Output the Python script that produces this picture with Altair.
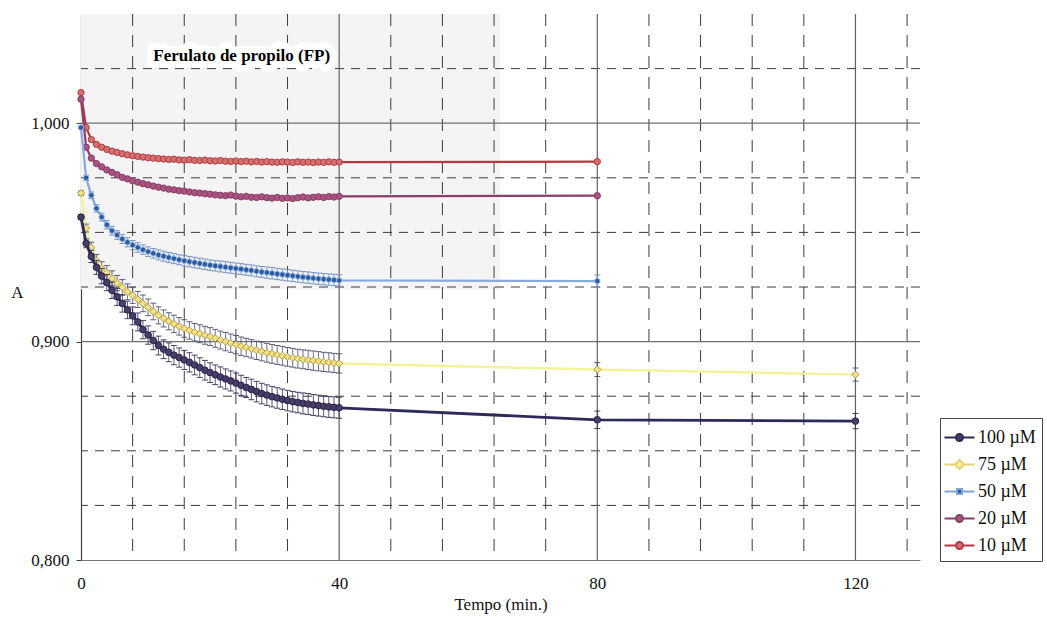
import altair as alt
import pandas as pd

# ---------------- data ----------------
series = ["100 µM", "75 µM", "50 µM", "20 µM", "10 µM"]

times_main = [0, 0.8, 1.6, 2.4, 3.2, 4.0, 4.8, 5.6, 6.4, 7.2,
              8.0, 8.8, 9.6, 10.4, 11.2, 12.0, 12.8, 13.6, 14.4, 15.2,
              16.0, 16.8, 17.6, 18.4, 19.2, 20.0, 20.8, 21.6, 22.4, 23.2,
              24.0, 24.8, 25.6, 26.4, 27.2, 28.0, 28.8, 29.6, 30.4, 31.2,
              32.0, 32.8, 33.6, 34.4, 35.2, 36.0, 36.8, 37.6, 38.4, 39.2,
              40.0]

a100 = [0.957, 0.945, 0.939, 0.934, 0.930, 0.927, 0.9235, 0.9205, 0.9175, 0.9145,
        0.9118, 0.9090, 0.9055, 0.9030, 0.9005, 0.8982, 0.8965, 0.8951, 0.8938, 0.8927,
        0.8916, 0.8905, 0.8893, 0.8881, 0.8869, 0.8858, 0.8848, 0.8838, 0.8829, 0.8820,
        0.8810, 0.8800, 0.8790, 0.8781, 0.8771, 0.8762, 0.8755, 0.8748, 0.8742, 0.8736,
        0.8730, 0.8725, 0.8721, 0.8717, 0.8714, 0.8710, 0.8707, 0.8704, 0.8701, 0.8699,
        0.8697]
a75 = [0.968, 0.952, 0.943, 0.937, 0.9335, 0.9315, 0.9290, 0.9268, 0.9248, 0.9228,
       0.9212, 0.9193, 0.9175, 0.9157, 0.9138, 0.9120, 0.9106, 0.9093, 0.9081, 0.9070,
       0.9060, 0.9051, 0.9043, 0.9036, 0.9029, 0.9023, 0.9015, 0.9007, 0.9000, 0.8993,
       0.8986, 0.8979, 0.8973, 0.8967, 0.8960, 0.8955, 0.8949, 0.8944, 0.8939, 0.8935,
       0.8930, 0.8926, 0.8922, 0.8919, 0.8916, 0.8913, 0.8910, 0.8907, 0.8905, 0.8902,
       0.8900]
a50 = [0.998, 0.975, 0.967, 0.961, 0.957, 0.9535, 0.9508, 0.9488, 0.9470, 0.9455,
       0.9442, 0.9431, 0.9421, 0.9412, 0.9404, 0.9397, 0.9391, 0.9385, 0.9380, 0.9375,
       0.9370, 0.9366, 0.9362, 0.9358, 0.9354, 0.9350, 0.9347, 0.9344, 0.9341, 0.9338,
       0.9335, 0.9332, 0.9329, 0.9326, 0.9322, 0.9319, 0.9316, 0.9313, 0.9310, 0.9307,
       0.9304, 0.9301, 0.9298, 0.9295, 0.9293, 0.9290, 0.9288, 0.9286, 0.9284, 0.9282,
       0.9280]
a20 = [1.011, 0.989, 0.984, 0.9815, 0.9800, 0.9786, 0.9775, 0.9764, 0.9752, 0.9745,
       0.9736, 0.9730, 0.9723, 0.9718, 0.9712, 0.9707, 0.9703, 0.9698, 0.9695, 0.9691,
       0.9689, 0.9685, 0.9682, 0.9680, 0.9677, 0.9675, 0.9672, 0.9670, 0.9668, 0.9671,
       0.9666, 0.9663, 0.9665, 0.9661, 0.9660, 0.9663, 0.9659, 0.9657, 0.9660, 0.9656,
       0.9658, 0.9655, 0.9659, 0.9662, 0.9658, 0.9661, 0.9663, 0.9660, 0.9664, 0.9662,
       0.9665]
a10 = [1.014, 0.998, 0.9925, 0.9903, 0.9890, 0.9880, 0.9872, 0.9866, 0.9860, 0.9855,
       0.9851, 0.9848, 0.9845, 0.9842, 0.9840, 0.9838, 0.9836, 0.9834, 0.9835, 0.9832,
       0.9831, 0.9833, 0.9830, 0.9829, 0.9831, 0.9828, 0.9827, 0.9829, 0.9826, 0.9825,
       0.9827, 0.9824, 0.9826, 0.9823, 0.9825, 0.9822, 0.9824, 0.9822, 0.9821, 0.9823,
       0.9822, 0.9820, 0.9823, 0.9821, 0.9822, 0.9820, 0.9822, 0.9821, 0.9823, 0.9821,
       0.9822]

e100 = [0.0010, 0.0020, 0.0028, 0.0032, 0.0035, 0.0037, 0.0038, 0.0039, 0.0040, 0.0040,
        0.0041, 0.0041, 0.0042, 0.0042, 0.0042, 0.0043, 0.0043, 0.0043, 0.0044, 0.0044,
        0.0044, 0.0044, 0.0045, 0.0045, 0.0045, 0.0045, 0.0045, 0.0046, 0.0046, 0.0046,
        0.0046, 0.0046, 0.0046, 0.0047, 0.0047, 0.0047, 0.0047, 0.0047, 0.0047, 0.0047,
        0.0047, 0.0047, 0.0047, 0.0048, 0.0048, 0.0048, 0.0048, 0.0048, 0.0048, 0.0048,
        0.0048]
e75 = [0.0010, 0.0018, 0.0025, 0.0029, 0.0031, 0.0033, 0.0034, 0.0035, 0.0036, 0.0036,
       0.0037, 0.0037, 0.0038, 0.0038, 0.0038, 0.0039, 0.0039, 0.0039, 0.0040, 0.0040,
       0.0040, 0.0040, 0.0040, 0.0041, 0.0041, 0.0041, 0.0041, 0.0041, 0.0042, 0.0042,
       0.0042, 0.0042, 0.0042, 0.0042, 0.0042, 0.0043, 0.0043, 0.0043, 0.0043, 0.0043,
       0.0043, 0.0043, 0.0043, 0.0043, 0.0044, 0.0044, 0.0044, 0.0044, 0.0044, 0.0044,
       0.0044]
e50 = [0.0008, 0.0012, 0.0015, 0.0017, 0.0018, 0.0019, 0.0020, 0.0020, 0.0021, 0.0021,
       0.0021, 0.0022, 0.0022, 0.0022, 0.0022, 0.0023, 0.0023, 0.0023, 0.0023, 0.0023,
       0.0024, 0.0024, 0.0024, 0.0024, 0.0024, 0.0024, 0.0024, 0.0025, 0.0025, 0.0025,
       0.0025, 0.0025, 0.0025, 0.0025, 0.0025, 0.0025, 0.0026, 0.0026, 0.0026, 0.0026,
       0.0026, 0.0026, 0.0026, 0.0026, 0.0026, 0.0026, 0.0026, 0.0026, 0.0026, 0.0026,
       0.0026]

late_t100 = [80, 120]
late_a100 = [0.8642, 0.8636]
late_e100 = [0.0040, 0.0035]
late_t75 = [80, 120]
late_a75 = [0.8872, 0.8849]
late_e75 = [0.0032, 0.0030]
late_t50 = [80]
late_a50 = [0.9277]
late_e50 = [0.0028]
late_t20 = [80]
late_a20 = [0.9668]
late_t10 = [80]
late_a10 = [0.9824]

x_ticks = [0, 40, 80, 120]
y_ticks = [0.8, 0.9, 1.0]
x_major = [40, 80, 120]
x_minor = [8, 16, 24, 32, 48, 56, 64, 72, 88, 96, 104, 112, 128]
y_major = [0.9, 1.0]
y_minor = [0.825, 0.85, 0.875, 0.925, 0.95, 0.975, 1.025]

shade_t = [0, 65]
shade_A = [0.924, 1.05]

title_text = "Ferulato de propilo (FP)"
title_t = [24.9]
title_A = [1.0307]

# ---------------- build table ----------------
assert all(len(v) == len(times_main) for v in [a100, a75, a50, a20, a10, e100, e75, e50])

rows = []
def add(name, ts, vals, errs=None):
    for i, (t, a) in enumerate(zip(ts, vals)):
        rows.append({"series": name, "t": t, "A": a,
                     "err": (errs[i] if errs is not None else None)})

add("100 µM", times_main + late_t100, a100 + late_a100, e100 + late_e100)
add("75 µM", times_main + late_t75, a75 + late_a75, e75 + late_e75)
add("50 µM", times_main + late_t50, a50 + late_a50, e50 + late_e50)
add("20 µM", times_main + late_t20, a20 + late_a20)
add("10 µM", times_main + late_t10, a10 + late_a10)
df = pd.DataFrame(rows)
df["lo"] = df["A"] - df["err"]
df["hi"] = df["A"] + df["err"]

# ---------------- styles ----------------
FONT = "Liberation Serif"
styles = {
    "100 µM": dict(line="#2b2a58", lw=2.8, shape="circle", fill="#4a3c66", stroke="#27264f", size=44, err="#2f2f55"),
    "75 µM": dict(line="#f3f39a", lw=2.4, shape="diamond", fill="#f6e27a", stroke="#a89a5c", size=52, err="#4c4f6e"),
    "50 µM": dict(line="#86aadc", lw=2.2, shape="circle", fill="#2c5a9e", stroke="#9dbde6", size=30, err="#6d8fc4"),
    "20 µM": dict(line="#8a3f67", lw=2.2, shape="circle", fill="#a85482", stroke="#8a3a64", size=40, err=None),
    "10 µM": dict(line="#b5383e", lw=2.2, shape="circle", fill="#d47070", stroke="#b23a40", size=40, err=None),
}
legend_paths = [
    "M-1.2,0H-0.28M0.28,0H1.2M-0.28,0A0.28,0.28,0,1,1,0.28,0A0.28,0.28,0,1,1,-0.28,0Z",
    "M-1.2,0H-0.36M0.36,0H1.2M-0.36,0L0,-0.36L0.36,0L0,0.36Z",
    "M-1.2,0H-0.2M0.2,0H1.2M-0.2,-0.2H0.2V0.2H-0.2Z",
    "M-1.2,0H-0.28M0.28,0H1.2M-0.28,0A0.28,0.28,0,1,1,0.28,0A0.28,0.28,0,1,1,-0.28,0Z",
    "M-1.2,0H-0.28M0.28,0H1.2M-0.28,0A0.28,0.28,0,1,1,0.28,0A0.28,0.28,0,1,1,-0.28,0Z",
]
legend_fill = ["#4a3c66", "#fbf0a0", "#2c5a9e", "#a85482", "#d47070"]
legend_stroke = ["#2b2a58", "#e2d272", "#7fa5d8", "#8a3f67", "#b5383e"]

xscale = alt.Scale(domain=[0, 130], nice=False, zero=False)
yscale = alt.Scale(domain=[0.8, 1.05], nice=False, zero=False)

x_axis = alt.Axis(
    values=x_ticks, title="Tempo (min.)", format="d", grid=False,
    ticks=False, tickSize=0, labelPadding=15, titlePadding=5,
    labelFont=FONT, labelFontSize=17, labelColor="#111", labelFlush=False,
    titleFont=FONT, titleFontSize=17, titleFontWeight="normal", titleColor="#111",
    domainColor="#777", domainWidth=1.2)
y_axis = alt.Axis(
    values=y_ticks, labelExpr="replace(format(datum.value, '.3f'), '.', ',')",
    grid=False, tickSize=5, tickColor="#444", labelPadding=7,
    labelFont=FONT, labelFontSize=17, labelColor="#111",
    title="A", titleAngle=0, titleX=-64, titleY=278, titleAlign="center",
    titleBaseline="middle", titleFont=FONT, titleFontSize=17,
    titleFontWeight="normal", titleColor="#111",
    domainColor="#444", domainWidth=1.2)


def X(field):
    return alt.X(field, type="quantitative", scale=xscale, axis=x_axis)


def Y(field):
    return alt.Y(field, type="quantitative", scale=yscale, axis=y_axis)


layers = []

# shaded region
shade_df = pd.DataFrame({"t0": [shade_t[0]], "t1": [shade_t[1]], "a0": [shade_A[0]], "a1": [shade_A[1]]})
layers.append(
    alt.Chart(shade_df).mark_rect(color="#f4f4f4").encode(
        x=X("t0"), x2="t1:Q", y=Y("a0"), y2="a1:Q"))

# gridlines
layers.append(alt.Chart(pd.DataFrame({"v": y_minor})).mark_rule(
    color="#3c3c3c", strokeWidth=1, strokeDash=[9, 7]).encode(y=Y("v")))
layers.append(alt.Chart(pd.DataFrame({"v": x_minor})).mark_rule(
    color="#3c3c3c", strokeWidth=1, strokeDash=[12, 9]).encode(x=X("v")))
layers.append(alt.Chart(pd.DataFrame({"v": y_major})).mark_rule(
    color="#707070", strokeWidth=1.2).encode(y=Y("v")))
layers.append(alt.Chart(pd.DataFrame({"v": x_major})).mark_rule(
    color="#606060", strokeWidth=1.2).encode(x=X("v")))

# title inside the plot with a white halo
title_df = pd.DataFrame({"t": title_t, "A": title_A, "label": [title_text]})
layers.append(alt.Chart(title_df).mark_text(
    font=FONT, fontSize=17, fontWeight="bold", align="center", baseline="middle",
    stroke="white", strokeWidth=14, strokeJoin="round", fill="white").encode(
    x=X("t"), y=Y("A"), text="label:N"))
layers.append(alt.Chart(title_df).mark_text(
    font=FONT, fontSize=17, fontWeight="bold", align="center", baseline="middle",
    color="black").encode(x=X("t"), y=Y("A"), text="label:N"))

# series
for name in ["10 µM", "20 µM", "50 µM", "75 µM", "100 µM"]:
    st = styles[name]
    base = alt.Chart(df).transform_filter(alt.datum.series == name)
    layers.append(base.mark_line(color=st["line"], strokeWidth=st["lw"]).encode(
        x=X("t"), y=Y("A"), order="t:Q"))
    if st["err"]:
        eb = base.transform_filter("isValid(datum.err)")
        layers.append(eb.mark_rule(color=st["err"], strokeWidth=1, opacity=0.8).encode(
            x=X("t"), y=Y("lo"), y2="hi:Q"))
        layers.append(eb.mark_tick(color=st["err"], orient="horizontal", size=6,
                                   thickness=1, opacity=0.9).encode(x=X("t"), y=Y("lo")))
        layers.append(eb.mark_tick(color=st["err"], orient="horizontal", size=6,
                                   thickness=1, opacity=0.9).encode(x=X("t"), y=Y("hi")))
    layers.append(base.mark_point(shape=st["shape"], filled=True, fill=st["fill"],
                                  stroke=st["stroke"], strokeWidth=1, size=st["size"],
                                  opacity=1).encode(x=X("t"), y=Y("A")))

# legend-only layer (no marks drawn)
leg = alt.Legend(orient="none", legendX=859, legendY=404, title=None,
                 labelFont=FONT, labelFontSize=18, labelColor="#111",
                 symbolSize=625, symbolStrokeWidth=2, labelOffset=5,
                 strokeColor="#444", fillColor="white", padding=6, rowPadding=4)
layers.append(alt.Chart(df).transform_filter("false").mark_point(
    filled=True, opacity=1, strokeWidth=2).encode(
    x=X("t"), y=Y("A"),
    shape=alt.Shape("series:N", scale=alt.Scale(domain=series, range=legend_paths), legend=leg),
    fill=alt.Fill("series:N", scale=alt.Scale(domain=series, range=legend_fill), legend=leg),
    stroke=alt.Stroke("series:N", scale=alt.Scale(domain=series, range=legend_stroke), legend=leg),
))

chart = alt.layer(*layers).properties(
    width=839, height=546,
    autosize=alt.AutoSizeParams(type="none"),
    padding={"left": 81, "top": 14, "right": 127, "bottom": 68},
    background="white",
).configure_view(stroke=None)

chart.save("out.html", embed_options={"renderer": "svg", "actions": False})
